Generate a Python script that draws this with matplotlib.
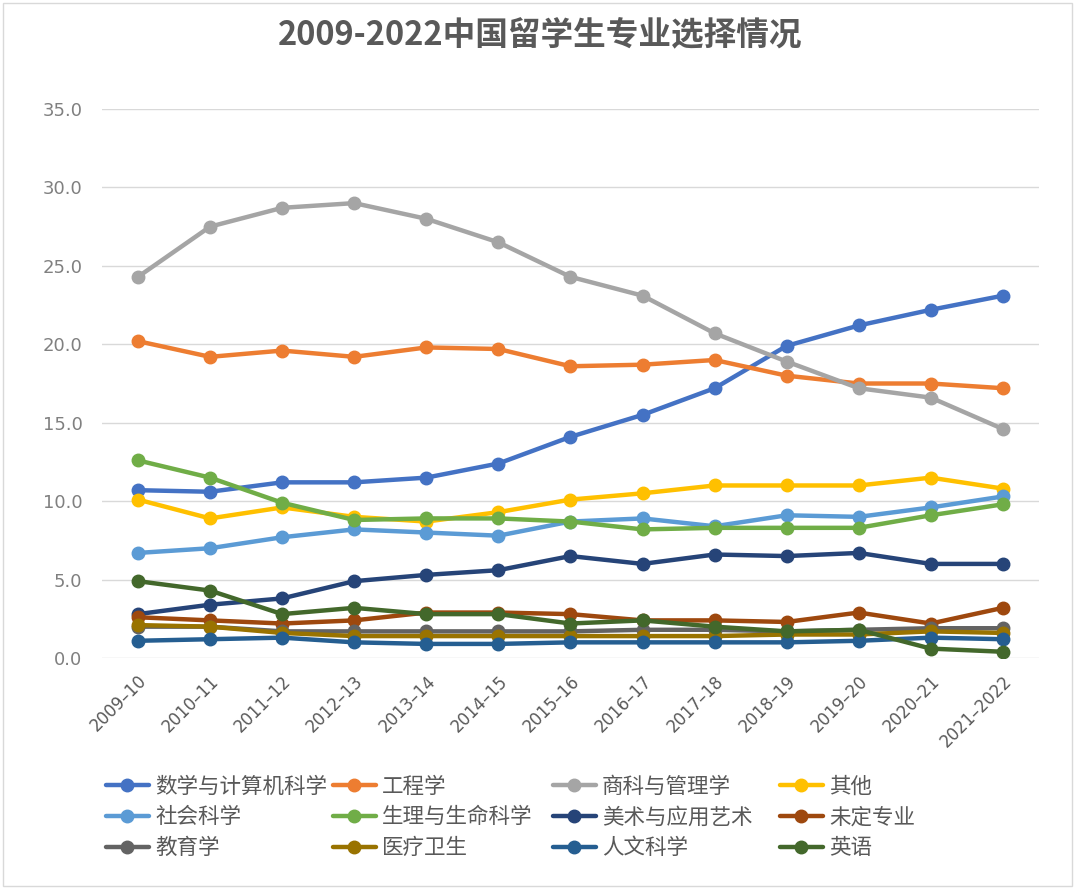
import matplotlib.pyplot as plt
from matplotlib.patches import Rectangle

plt.rcParams['font.family'] = ['Noto Sans CJK SC', 'DejaVu Sans']

years = ["2009–10", "2010–11", "2011–12", "2012–13", "2013–14", "2014–15",
         "2015–16", "2016–17", "2017–18", "2018–19", "2019–20", "2020–21",
         "2021–2022"]

majors = ["数学与计算机科学", "工程学", "商科与管理学", "其他",
          "社会科学", "生理与生命科学", "美术与应用艺术", "未定专业",
          "教育学", "医疗卫生", "人文科学", "英语"]

math_cs = [10.7, 10.6, 11.2, 11.2, 11.5, 12.4, 14.1, 15.5, 17.2, 19.9, 21.2, 22.2, 23.1]
engineering = [20.2, 19.2, 19.6, 19.2, 19.8, 19.7, 18.6, 18.7, 19.0, 18.0, 17.5, 17.5, 17.2]
business = [24.3, 27.5, 28.7, 29.0, 28.0, 26.5, 24.3, 23.1, 20.7, 18.9, 17.2, 16.6, 14.6]
other = [10.1, 8.9, 9.6, 9.0, 8.7, 9.3, 10.1, 10.5, 11.0, 11.0, 11.0, 11.5, 10.8]
social = [6.7, 7.0, 7.7, 8.2, 8.0, 7.8, 8.7, 8.9, 8.4, 9.1, 9.0, 9.6, 10.3]
life_sci = [12.6, 11.5, 9.9, 8.8, 8.9, 8.9, 8.7, 8.2, 8.3, 8.3, 8.3, 9.1, 9.8]
arts = [2.8, 3.4, 3.8, 4.9, 5.3, 5.6, 6.5, 6.0, 6.6, 6.5, 6.7, 6.0, 6.0]
undeclared = [2.6, 2.4, 2.2, 2.4, 2.9, 2.9, 2.8, 2.4, 2.4, 2.3, 2.9, 2.2, 3.2]
education = [2.0, 2.0, 1.7, 1.7, 1.7, 1.7, 1.7, 1.8, 1.8, 1.7, 1.8, 1.9, 1.9]
health = [2.1, 2.0, 1.6, 1.4, 1.4, 1.4, 1.4, 1.4, 1.4, 1.5, 1.5, 1.7, 1.6]
humanities = [1.1, 1.2, 1.3, 1.0, 0.9, 0.9, 1.0, 1.0, 1.0, 1.0, 1.1, 1.3, 1.2]
english = [4.9, 4.3, 2.8, 3.2, 2.8, 2.8, 2.2, 2.4, 2.0, 1.7, 1.8, 0.6, 0.4]

series = [math_cs, engineering, business, other, social, life_sci,
          arts, undeclared, education, health, humanities, english]
colors = ["#4472C4", "#ED7D31", "#A5A5A5", "#FFC000", "#5B9BD5", "#70AD47",
          "#264478", "#9E480E", "#636363", "#997300", "#255E91", "#43682B"]

fig = plt.figure(figsize=(10.8, 8.89), dpi=100)
fig.patches.append(Rectangle((0.003, 0.003), 0.99, 0.994, transform=fig.transFigure,
                             fill=False, edgecolor="#d9d9d9", lw=1))
ax = fig.add_axes([0.0944, 0.2598, 0.8676, 0.6176])

x = list(range(len(years)))
lines = []
for name, vals, c in zip(majors, series, colors):
    ln, = ax.plot(x, vals, color=c, lw=3.2, marker="o", markersize=9,
                  solid_capstyle="round", label=name)
    lines.append(ln)

ax.set_xlim(-0.5, len(years) - 0.5)
ax.set_ylim(0, 35)
ax.set_yticks([0, 5, 10, 15, 20, 25, 30, 35])
ax.set_yticklabels([f"{v:.1f}" for v in ax.get_yticks()], family="DejaVu Sans",
                   fontsize=13, color="#808080")
ax.set_xticks(x)
ax.set_xticklabels(years, rotation=45, ha="right", rotation_mode="anchor",
                   family="DejaVu Sans", fontsize=12, color="#595959")
ax.tick_params(length=0, axis="both")
ax.tick_params(axis="y", pad=14)
ax.tick_params(axis="x", pad=10)
ax.grid(axis="y", color="#d9d9d9", lw=1)
ax.set_axisbelow(True)
for s in ax.spines.values():
    s.set_visible(False)

fig.text(0.5, 0.96, "2009-2022中国留学生专业选择情况", ha="center", va="center",
         fontsize=23.5, fontweight="bold", color="#595959")

# one legend per column so the columns sit at even spacing
col_x = [97 / 1080, 324 / 1080, 544 / 1080, 771 / 1080]
for col in range(4):
    idx = [col, col + 4, col + 8]
    fig.legend([lines[i] for i in idx], [majors[i] for i in idx], ncol=1,
               loc="upper left", bbox_to_anchor=(col_x[col], 0.137), frameon=False,
               fontsize=15.5, labelcolor="#595959", handlelength=2.0,
               handletextpad=0.3, labelspacing=0.4, borderaxespad=0)

fig.savefig("out.png", dpi=100, facecolor="white")
